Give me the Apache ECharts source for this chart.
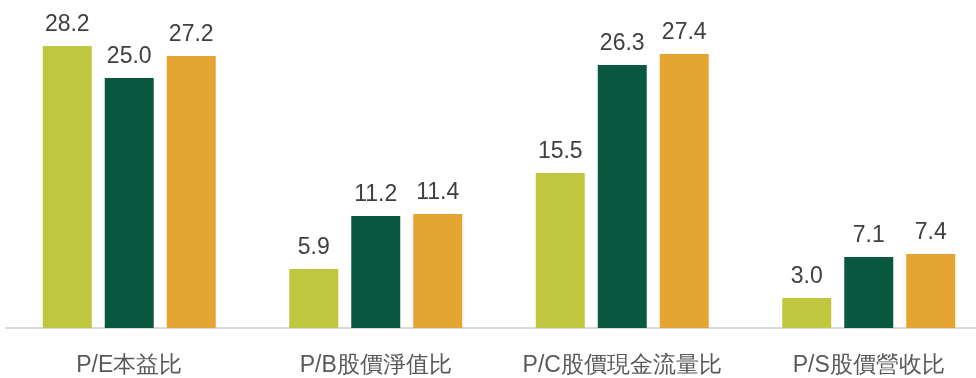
<!DOCTYPE html>
<html>
<head>
<meta charset="utf-8">
<script src="https://cdn.jsdelivr.net/npm/echarts@6/dist/echarts.min.js"></script>
<style>
  html, body { margin: 0; padding: 0; background: #ffffff; }
  #chart { width: 976px; height: 378px; }
</style>
</head>
<body>
<div id="chart"></div>
<script>
// Valuation ratios, three series per category
const categories = ['P/E本益比', 'P/B股價淨值比', 'P/C股價現金流量比', 'P/S股價營收比'];
const seriesNames = ['系列一', '系列二', '系列三'];
const seriesA = [28.2, 5.9, 15.5, 3.0];
const seriesB = [25.0, 11.2, 26.3, 7.1];
const seriesC = [27.2, 11.4, 27.4, 7.4];
const colors = ['#BEC73E', '#0B5840', '#E5A532'];

const chart = echarts.init(document.getElementById('chart'), null, { renderer: 'canvas' });

function makeSeries(name, data, color) {
  return {
    name: name,
    type: 'bar',
    data: data,
    barWidth: 49,
    barGap: '26.5%',
    itemStyle: { color: color },
    label: {
      show: true,
      position: 'top',
      distance: 10,
      color: '#404040',
      fontSize: 23,
      fontFamily: 'Liberation Sans, Arial, sans-serif',
      formatter: p => p.value.toFixed(1)
    },
    emphasis: { disabled: true }
  };
}

chart.setOption({
  animation: false,
  backgroundColor: '#ffffff',
  grid: { left: 6, top: 28, right: -16, bottom: 50, containLabel: false, outerBoundsMode: 'none' },
  xAxis: {
    type: 'category',
    data: categories,
    axisLine: { show: true, lineStyle: { color: '#D9D9D9', width: 2 } },
    axisTick: { show: false },
    axisLabel: {
      interval: 0,
      color: '#595959',
      fontSize: 23,
      margin: 26,
      fontFamily: 'Liberation Sans, Arial, sans-serif'
    }
  },
  yAxis: {
    type: 'value',
    min: 0,
    max: 30,
    show: false,
    splitLine: { show: false }
  },
  series: [
    makeSeries(seriesNames[0], seriesA, colors[0]),
    makeSeries(seriesNames[1], seriesB, colors[1]),
    makeSeries(seriesNames[2], seriesC, colors[2])
  ]
});
</script>
</body>
</html>
